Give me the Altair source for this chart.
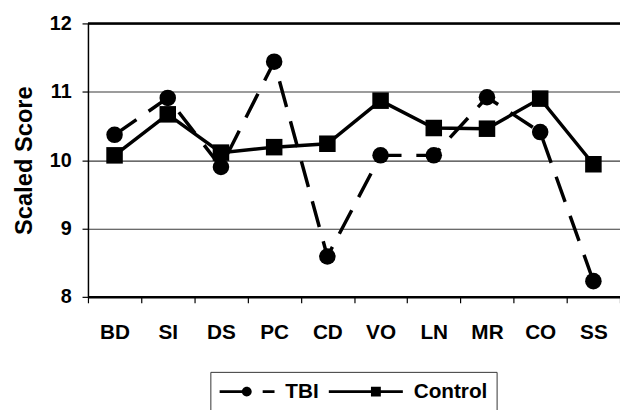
import altair as alt
import pandas as pd

categories = ["BD", "SI", "DS", "PC", "CD", "VO", "LN", "MR", "CO", "SS"]
tbi = [10.37, 10.91, 9.90, 11.44, 8.59, 10.07, 10.07, 10.92, 10.41, 8.23]
control = [10.07, 10.67, 10.11, 10.19, 10.24, 10.87, 10.47, 10.46, 10.90, 9.94]
groups = ["TBI", "Control"]
y_ticks = [8, 9, 10, 11, 12]

rows = []
for g, vals in zip(groups, [tbi, control]):
    for c, v in zip(categories, vals):
        rows.append({"test": c, "score": v, "group": g})
df = pd.DataFrame(rows)

FONT = "Liberation Sans"

# legend sample symbols (line + marker) as filled custom paths, in symbol units
path_tbi = ("M-1.06,-0.15H1.69V0.15H-1.06Z"
            "M1.19,0A0.5,0.5 0 1,1 2.19,0A0.5,0.5 0 1,1 1.19,0Z"
            "M3.3,-0.15H4.5V0.15H3.3Z")
path_ctrl = "M-3,-0.15H4.5V0.15H-3Z M1.27,-0.5H2.27V0.5H1.27Z"

y_scale = alt.Scale(domain=[8, 12], nice=False, zero=False)

x_enc = alt.X("test:N", sort=categories,
              scale=alt.Scale(type="band", paddingInner=0, paddingOuter=0),
              axis=alt.Axis(title=None, labelAngle=0, tickBand="extent", grid=False,
                            labelFont=FONT, labelFontSize=21, labelFontWeight="bold",
                            labelColor="black", labelPadding=19,
                            tickSize=6, tickColor="black", tickWidth=1.2,
                            domainColor="black", domainWidth=2.5))
y_enc = alt.Y("score:Q", scale=y_scale,
              axis=alt.Axis(title="Scaled Score", values=y_ticks, format="d",
                            labelFont=FONT, labelFontSize=20, labelFontWeight="bold",
                            labelColor="black", labelPadding=11,
                            titleFont=FONT, titleFontSize=24, titleFontWeight="bold",
                            titleColor="black", titlePadding=13,
                            tickSize=6, tickColor="black", tickWidth=1.2,
                            domainColor="black", domainWidth=1.5,
                            grid=True, gridColor="#3a3a3a", gridWidth=1.1))

base = alt.Chart(df).encode(x=x_enc, y=y_enc)

tbi_line = base.transform_filter("datum.group == 'TBI'").mark_line(
    color="black", strokeWidth=3.5, strokeDash=[27, 15])
tbi_pts = base.transform_filter("datum.group == 'TBI'").mark_point(
    shape="circle", filled=True, color="black", size=280, opacity=1)
ctrl_line = base.transform_filter("datum.group == 'Control'").mark_line(
    color="black", strokeWidth=3.5)
ctrl_pts = base.transform_filter("datum.group == 'Control'").mark_point(
    shape="square", filled=True, color="black", size=280, opacity=1)

top_rule = alt.Chart(pd.DataFrame({"v": [y_ticks[-1]]})).mark_rule(
    color="black", strokeWidth=2.5).encode(y=alt.Y("v:Q", scale=y_scale))

legend_layer = base.transform_filter("false").mark_point(
    filled=True, color="black", opacity=1
).encode(
    shape=alt.Shape("group:N",
                    scale=alt.Scale(domain=groups, range=[path_tbi, path_ctrl]),
                    legend=alt.Legend(title=None, orient="none", legendX=124, legendY=353,
                                      direction="horizontal", symbolSize=400,
                                      symbolFillColor="black", symbolOpacity=1,
                                      labelFont=FONT, labelFontSize=21,
                                      labelFontWeight="bold", labelColor="black",
                                      labelOffset=45, columnPadding=7, padding=9,
                                      strokeColor="#333333"))
)

chart = alt.layer(top_rule, tbi_line, tbi_pts, ctrl_line, ctrl_pts, legend_layer).properties(
    width=539, height=277,
    autosize=alt.AutoSizeParams(type="none"),
    padding={"left": 81, "top": 13, "right": 0, "bottom": 112},
    background="white",
).configure_view(stroke=None)

chart.save("out.html", embed_options={"renderer": "svg", "actions": False})
